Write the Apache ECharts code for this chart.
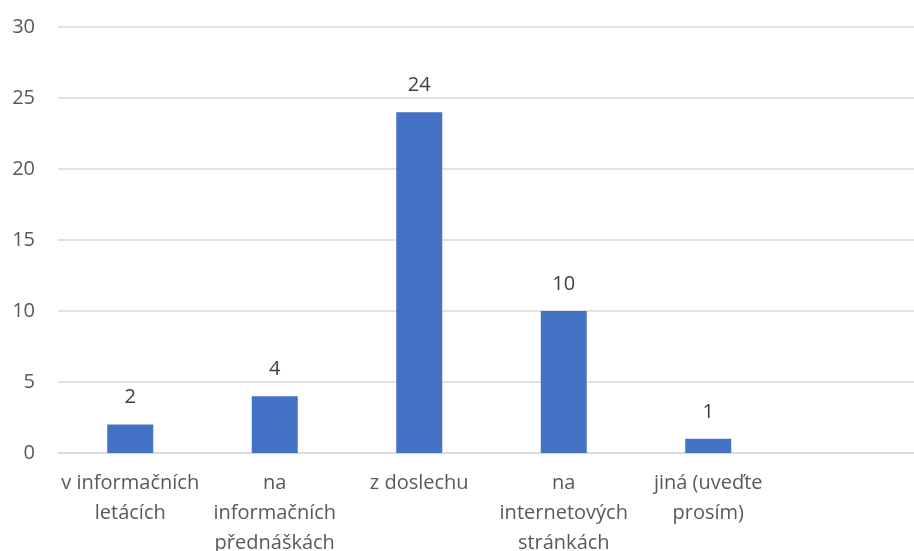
<!DOCTYPE html>
<html>
<head>
<meta charset="utf-8">
<script src="https://cdn.jsdelivr.net/npm/echarts@6/dist/echarts.min.js"></script>
<style>
    html, body { margin: 0; padding: 0; background: #ffffff; }
    #chart { width: 914px; height: 551px; }
</style>
</head>
<body>
<div id="chart"></div>
<script>
// kategorie a hodnoty
var categories = [
    'v informačních\nletácích',
    'na\ninformačních\npřednáškách',
    'z doslechu',
    'na\ninternetových\nstránkách',
    'jiná (uveďte\nprosím)',
    ''
];
var values = [2, 4, 24, 10, 1, null];
var yTicks = { min: 0, max: 30, interval: 5 };

var fontFam = '"Open Sans", "Noto Sans", sans-serif';

var myChart = echarts.init(document.getElementById('chart'));

var option = {
    animation: false,
    grid: {
        left: 58,
        top: 27,
        width: 867,
        bottom: 98,
        containLabel: false,
        outerBoundsMode: 'none'
    },
    xAxis: {
        type: 'category',
        data: categories,
        axisLine: { show: true, lineStyle: { color: '#d9d9d9', width: 1.5 } },
        axisTick: { show: false },
        axisLabel: {
            interval: 0,
            color: '#595959',
            fontSize: 20,
            fontFamily: fontFam,
            lineHeight: 30,
            margin: 15
        }
    },
    yAxis: {
        type: 'value',
        min: yTicks.min,
        max: yTicks.max,
        interval: yTicks.interval,
        axisLine: { show: false },
        axisTick: { show: false },
        axisLabel: {
            color: '#595959',
            fontSize: 20,
            fontFamily: fontFam,
            margin: 23
        },
        splitLine: { lineStyle: { color: '#d9d9d9', width: 1.5 } }
    },
    series: [{
        type: 'bar',
        data: values,
        barWidth: 46,
        itemStyle: { color: '#4472c4' },
        label: {
            show: true,
            position: 'top',
            distance: 17,
            color: '#404040',
            fontSize: 20,
            fontFamily: fontFam
        }
    }]
};

myChart.setOption(option);
</script>
</body>
</html>
